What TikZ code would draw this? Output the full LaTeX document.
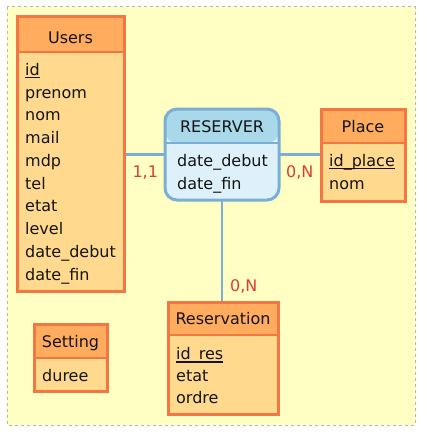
\documentclass[tikz,border=0pt]{standalone}
\usepackage{fontspec}
\setmainfont{DejaVu Sans}
\usetikzlibrary{backgrounds}
\definecolor{bgyel}{RGB}{255,255,196}
\definecolor{bgline}{RGB}{185,185,160}
\definecolor{enthead}{RGB}{255,172,94}
\definecolor{entbody}{RGB}{255,218,142}
\definecolor{entbd}{RGB}{244,118,66}
\definecolor{relhead}{RGB}{168,216,234}
\definecolor{relbody}{RGB}{222,241,250}
\definecolor{relbd}{RGB}{122,174,212}
\definecolor{cardred}{RGB}{222,58,58}
\definecolor{txt}{RGB}{20,20,20}
\newcommand\keyul[1]{\setbox0\hbox{#1}\rlap{\rule[-3.2pt]{\wd0}{1.1pt}}\box0}
\tikzset{
  boxbase/.style={inner sep=0pt, outer sep=0pt, line width=3pt},
  entity/.style={boxbase, draw=entbd, fill=entbody,
    path picture={
      \fill[enthead] (path picture bounding box.north west) rectangle ([yshift=-#1]path picture bounding box.north east);
      \draw[entbd, line width=2pt] ([yshift=-#1]path picture bounding box.north west) -- ([yshift=-#1]path picture bounding box.north east);
    }},
  relation/.style={boxbase, draw=relbd, fill=relbody, rounded corners=12pt,
    path picture={
      \fill[relhead] (path picture bounding box.north west) rectangle ([yshift=-#1]path picture bounding box.north east);
      \draw[relbd, line width=2pt] ([yshift=-#1]path picture bounding box.north west) -- ([yshift=-#1]path picture bounding box.north east);
    }},
  attr/.style={anchor=base west, inner sep=0pt, text=txt, font=\fontsize{16}{19}\selectfont},
  title/.style={anchor=base, inner sep=0pt, text=txt, font=\fontsize{16}{19}\selectfont},
  card/.style={anchor=base west, inner sep=0pt, text=cardred, font=\fontsize{16}{19}\selectfont},
  link/.style={draw=relbd, line width=2.2pt},
}
\begin{document}
\begin{tikzpicture}[x=1pt,y=-1pt]
\useasboundingbox (0,0) rectangle (426,436);
\begin{scope}[on background layer]
  \fill[bgyel] (7,7) rectangle (415,425);
  \draw[bgline, line width=1pt, dash pattern=on 3pt off 3pt] (7,7) rectangle (415,425);
\end{scope}
% entities
\node[entity=35pt, minimum width=107pt, minimum height=274pt] (users) at (70.5,154) {};
\node[relation=34pt, minimum width=114pt, minimum height=91pt] (reserver) at (222,154.5) {};
\node[entity=34pt, minimum width=84pt, minimum height=92pt] (place) at (363,155) {};
\node[entity=33pt, minimum width=110pt, minimum height=112pt] (reservation) at (223,358) {};
\node[entity=34pt, minimum width=73pt, minimum height=67pt] (setting) at (70.5,357.5) {};
% connectors
\begin{scope}[on background layer]
  \draw[link] (reserver.west) -- (reserver.west -| users.east);
  \draw[link] (reserver.east) -- (reserver.east -| place.west);
  \draw[link] (reserver.south) -- (reserver.south |- reservation.north);
\end{scope}
% Users
\node[title] (usersT) at (70.5,43.3) {Users};
\node[attr] (u1) at (25,75.2) {\keyul{id}};
\node[attr] (u2) at (25,98.0) {prenom};
\node[attr] (u3) at (25,120.7) {nom};
\node[attr] (u4) at (25,143.5) {mail};
\node[attr] (u5) at (25,166.2) {mdp};
\node[attr] (u6) at (25,189.0) {tel};
\node[attr] (u7) at (25,211.8) {etat};
\node[attr] (u8) at (25,234.5) {level};
\node[attr] (u9) at (25,257.3) {date\_debut};
\node[attr] (u10) at (25,280.0) {date\_fin};
% RESERVER
\node[title] (resT) at (222,132.7) {RESERVER};
\node[attr] (r1) at (177,166) {date\_debut};
\node[attr] (r2) at (177,189.3) {date\_fin};
% Place
\node[title] (placeT) at (363,132.7) {Place};
\node[attr] (p1) at (329,166) {\keyul{id\_place}};
\node[attr] (p2) at (329,189.3) {nom};
% Reservation
\node[title] (resvT) at (223,324.3) {Reservation};
\node[attr] (v1) at (176,359.3) {\keyul{id\_res}};
\node[attr] (v2) at (176,381.7) {etat};
\node[attr] (v3) at (176,403.3) {ordre};
% Setting
\node[title] (setT) at (70.5,347.7) {Setting};
\node[attr] (s1) at (42,381.7) {duree};
% cardinalities
\node[card] (c1) at (132.3,177.3) {1,1};
\node[card] (c2) at (286,177.3) {0,N};
\node[card] (c3) at (230,291) {0,N};
\end{tikzpicture}
\end{document}
